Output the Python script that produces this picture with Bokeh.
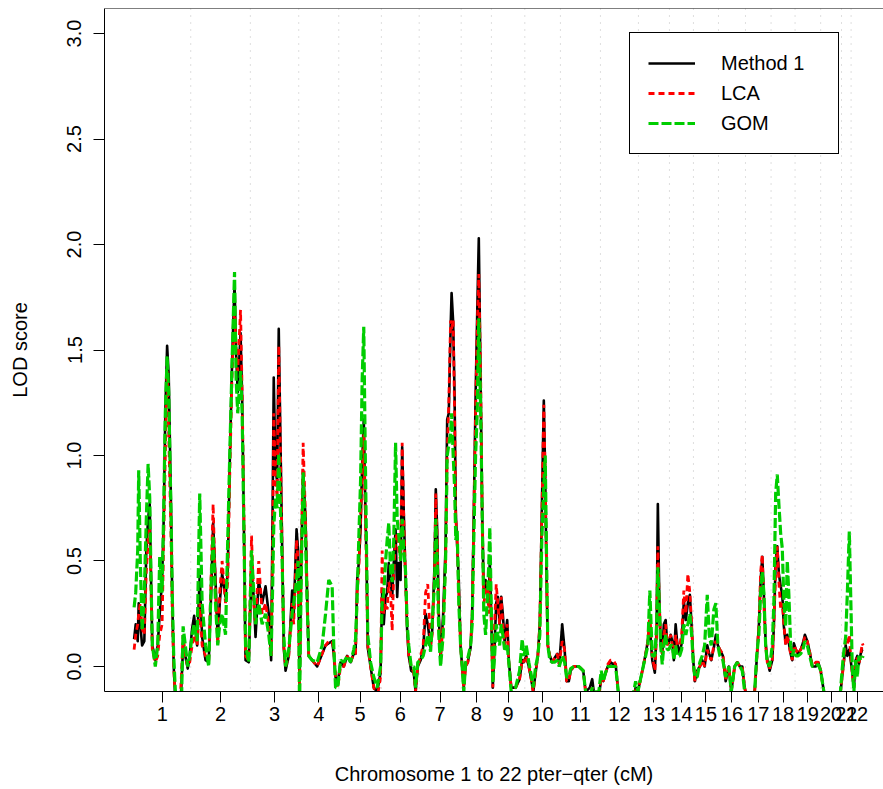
from bokeh.plotting import figure
from bokeh.models import (Range1d, FixedTicker, Span, Legend, LegendItem,
                          PrintfTickFormatter, ColumnDataSource)
from bokeh.embed import file_html
from bokeh.resources import INLINE

# ---------------- data ----------------
chrom_labels = [str(i) for i in range(1, 23)]
chrom_len_cM = [283, 298, 242, 200, 213, 189, 210, 151, 167, 178, 200,
                190, 155, 120, 125, 135, 128, 120, 128, 104, 48, 60]

# genome-wide position (cM, chromosome 1 pter = 0)
pos_cM = [
    0, 8, 18, 23, 31, 40, 51, 61, 70, 78, 85, 91, 106, 118, 128, 140, 148, 156, 165, 173, 185, 191, 198, 208, 223, 236, 245, 256, 268, 278,
    290, 300, 315, 328, 340, 357, 373, 387, 395, 407, 418, 428, 440, 457, 468, 478, 490, 502, 510, 518, 532, 540, 548, 557, 573,
    587, 598, 607, 623, 640, 657, 673, 685, 693, 698, 707, 715, 723, 732, 740, 748, 757, 773, 790, 798, 812, 820,
    827, 835, 845, 857, 865, 873, 890, 915, 940, 957, 973, 990, 998, 1007, 1018,
    1032, 1048, 1065, 1082, 1098, 1107, 1115, 1123, 1132, 1140, 1148, 1155, 1162, 1168, 1182, 1198, 1215, 1232,
    1240, 1248, 1257, 1265, 1273, 1282, 1290, 1298, 1307, 1315, 1323, 1332, 1340, 1348, 1357, 1365, 1373, 1385, 1398, 1407, 1418,
    1432, 1445, 1457, 1468, 1482, 1490, 1502, 1508, 1515, 1523, 1532, 1545, 1557, 1565, 1573, 1582, 1587, 1595, 1602, 1608, 1615, 1623, 1632,
    1640, 1648, 1657, 1668, 1682, 1690, 1698, 1707, 1715, 1723, 1732, 1740, 1748, 1757, 1765, 1773, 1778, 1787,
    1793, 1802, 1810, 1818, 1827, 1835, 1843, 1852, 1865, 1873, 1885, 1907, 1927, 1940, 1948,
    1960, 1973, 1985, 1995, 2007, 2018, 2028, 2038, 2048, 2055, 2062, 2068, 2078, 2090, 2102, 2115, 2125,
    2140, 2152, 2162, 2173, 2182, 2198, 2223, 2245, 2257, 2278, 2290, 2298, 2323,
    2335, 2345, 2357, 2368, 2382, 2395, 2407, 2418, 2440, 2473, 2507, 2518,
    2545, 2557, 2568, 2578, 2590, 2603, 2612, 2618, 2625, 2632, 2640, 2648, 2657, 2665, 2673,
    2682, 2690, 2698, 2707, 2715, 2727, 2737, 2748, 2758, 2768, 2778, 2787, 2795,
    2803, 2815, 2828, 2840, 2852, 2865, 2875, 2885, 2898, 2908, 2918,
    2928, 2943, 2957, 2973, 2985, 3002, 3015, 3028, 3040, 3052,
    3073, 3102, 3112, 3123, 3132, 3140, 3148, 3157, 3165, 3177,
    3190, 3198, 3207, 3215, 3223, 3232, 3240, 3248, 3257, 3265, 3273, 3282, 3290, 3298,
    3308, 3318, 3332, 3343, 3353, 3365, 3377, 3390, 3407, 3420, 3432,
    3448, 3490, 3528,
    3545, 3557, 3565, 3575, 3582,
    3590, 3598, 3607, 3615, 3623, 3632, 3640, 3644,
]

lod_method1 = [
    0.13, 0.2, 0.12, 0.3, 0.2, 0.1, 0.12, 0.55, 0.7, 0.77, 0.4, 0.1, 0.03, 0.1, 0.25, 0.41, 0.7, 1.2, 1.52, 1.38, 0.73, 0.3, 0.0, -0.2, -0.3, -0.1, 0.1, 0.05, -0.01, 0.05,
    0.18, 0.24, 0.1, 0.43, 0.14, 0.03, 0.02, 0.4, 0.68, 0.41, 0.13, 0.3, 0.44, 0.33, 0.45, 0.96, 1.45, 1.82, 1.48, 1.3, 1.58, 1.28, 0.73, 0.03, 0.02,
    0.45, 0.33, 0.14, 0.41, 0.3, 0.38, 0.25, 0.03, 0.8, 1.37, 0.93, 0.88, 1.6, 1.04, 0.57, 0.09, -0.02, 0.05, 0.36, 0.25, 0.65, 0.55,
    -0.1, 0.47, 0.93, 0.7, 0.33, 0.05, 0.03, 0.0, 0.06, 0.1, 0.11, 0.12, 0.06, -0.05, -0.08,
    0.02, 0.0, 0.05, 0.02, 0.06, 0.06, 0.41, 0.49, 0.65, 0.96, 1.17, 0.8, 0.49, 0.09, 0.0, -0.1, -0.12, -0.03,
    0.36, 0.2, 0.33, 0.35, 0.49, 0.41, 0.33, 0.49, 0.65, 0.33, 0.49, 0.41, 1.04, 0.73, 0.41, 0.17, 0.05, -0.02, -0.03, -0.12, 0.0,
    0.03, 0.09, 0.25, 0.2, 0.09, 0.17, 0.49, 0.84, 0.65, 0.25, 0.03, 0.25, 0.57, 1.17, 1.2, 1.6, 1.77, 1.63, 1.28, 0.73, 0.57, 0.41, 0.09,
    0.0, -0.1, 0.0, 0.02, 0.09, 0.25, 0.73, 1.28, 1.67, 2.03, 1.36, 0.73, 0.33, 0.41, 0.38, 0.3, 0.5, 0.17,
    -0.1, 0.1, 0.3, 0.33, 0.2, 0.33, 0.25, 0.12, 0.22, 0.03, -0.1, -0.1, -0.06, 0.03, 0.02,
    0.05, 0.0, -0.06, -0.12, -0.03, 0.05, 0.2, 0.73, 1.26, 0.9, 0.4, 0.1, 0.05, 0.02, 0.04, 0.06, 0.01,
    0.2, 0.08, -0.07, -0.07, -0.02, 0.0, 0.0, -0.02, -0.12, -0.1, -0.06, -0.12, -0.15,
    -0.05, -0.07, -0.03, 0.0, 0.02, 0.01, 0.01, -0.1, -0.3, -0.3, -0.1, -0.12,
    0.0, 0.06, 0.12, 0.19, 0.03, -0.03, 0.19, 0.77, 0.34, 0.11, 0.06, 0.2, 0.22, 0.11, 0.11,
    0.15, 0.12, 0.03, 0.2, 0.11, 0.06, 0.11, 0.31, 0.22, 0.3, 0.34, 0.19, 0.03,
    -0.07, -0.02, 0.0, 0.03, 0.0, 0.1, 0.06, 0.03, 0.09, 0.15, 0.1,
    0.08, 0.05, -0.07, 0.0, -0.12, 0.0, 0.02, 0.0, 0.0, -0.1,
    -0.2, -0.12, 0.03, 0.19, 0.41, 0.52, 0.34, 0.11, 0.03, -0.02,
    0.03, 0.19, 0.5, 0.57, 0.44, 0.38, 0.34, 0.19, 0.11, 0.15, 0.11, 0.06, 0.03, 0.11,
    0.08, 0.06, 0.08, 0.11, 0.15, 0.12, 0.07, 0.0, 0.0, 0.02, -0.02,
    -0.12, -0.3, -0.15,
    0.0, 0.1, 0.05, 0.08, 0.03,
    -0.03, -0.1, 0.03, 0.05, 0.01, 0.06, 0.08, 0.08,
]

lod_lca = [
    0.08, 0.15, 0.2, 0.25, 0.3, 0.18, 0.15, 0.45, 0.6, 0.65, 0.35, 0.08, 0.02, 0.05, 0.15, 0.2, 0.6, 1.0, 1.4, 1.1, 0.6, 0.25, 0.0, -0.2, -0.3, -0.05, 0.15, 0.05, 0.0, 0.02,
    0.1, 0.15, 0.1, 0.3, 0.1, 0.05, 0.03, 0.5, 0.77, 0.35, 0.1, 0.35, 0.5, 0.3, 0.4, 0.9, 1.4, 1.7, 1.5, 1.4, 1.69, 1.3, 0.8, 0.05, 0.03,
    0.62, 0.3, 0.2, 0.5, 0.25, 0.3, 0.2, 0.05, 0.6, 1.2, 0.88, 0.8, 1.52, 1.0, 0.55, 0.1, 0.0, 0.05, 0.3, 0.2, 0.6, 0.5,
    -0.1, 0.5, 1.06, 0.7, 0.35, 0.05, 0.03, 0.0, 0.06, 0.1, 0.12, 0.12, 0.08, -0.05, -0.1,
    0.0, 0.0, 0.05, 0.02, 0.06, 0.06, 0.35, 0.45, 0.7, 0.9, 1.1, 0.75, 0.45, 0.1, 0.0, -0.1, -0.15, -0.05,
    0.55, 0.25, 0.3, 0.27, 0.4, 0.35, 0.17, 0.45, 0.6, 0.63, 0.55, 0.5, 1.06, 0.7, 0.4, 0.2, 0.05, 0.0, -0.03, -0.12, 0.0,
    0.05, 0.1, 0.35, 0.39, 0.1, 0.15, 0.45, 0.82, 0.6, 0.2, 0.05, 0.2, 0.5, 1.0, 1.25, 1.64, 1.6, 1.64, 1.2, 0.7, 0.6, 0.35, 0.1,
    0.0, -0.1, 0.0, 0.02, 0.1, 0.25, 0.7, 1.2, 1.6, 1.86, 1.4, 0.7, 0.3, 0.35, 0.4, 0.25, 0.45, 0.15,
    -0.1, 0.2, 0.39, 0.3, 0.2, 0.33, 0.2, 0.1, 0.2, 0.02, -0.1, -0.1, -0.06, 0.03, 0.02,
    0.05, 0.0, -0.06, -0.12, -0.03, 0.05, 0.2, 0.7, 1.24, 0.9, 0.45, 0.1, 0.05, 0.02, 0.04, 0.06, 0.01,
    0.12, 0.08, -0.07, -0.07, -0.02, 0.0, 0.0, -0.02, -0.12, -0.15, -0.1, -0.12, -0.15,
    -0.05, -0.07, -0.03, 0.01, 0.03, 0.03, 0.01, -0.1, -0.3, -0.3, -0.1, -0.12,
    0.0, 0.06, 0.12, 0.25, 0.05, -0.02, 0.15, 0.57, 0.3, 0.12, 0.06, 0.15, 0.2, 0.1, 0.12,
    0.15, 0.1, 0.05, 0.15, 0.1, 0.1, 0.15, 0.36, 0.25, 0.44, 0.35, 0.2, 0.03,
    -0.07, -0.02, 0.0, 0.03, 0.0, 0.08, 0.05, 0.03, 0.1, 0.12, 0.1,
    0.08, 0.06, -0.06, 0.0, -0.12, 0.0, 0.02, 0.0, 0.0, -0.1,
    -0.2, -0.12, 0.03, 0.2, 0.45, 0.53, 0.3, 0.1, 0.02, -0.01,
    0.03, 0.2, 0.45, 0.57, 0.4, 0.27, 0.3, 0.2, 0.1, 0.15, 0.1, 0.06, 0.03, 0.1,
    0.08, 0.06, 0.08, 0.1, 0.14, 0.12, 0.07, 0.0, 0.02, 0.02, -0.02,
    -0.12, -0.3, -0.15,
    0.0, 0.12, 0.1, 0.15, 0.05,
    -0.03, -0.1, 0.03, 0.04, 0.01, 0.06, 0.11, 0.1,
]

lod_gom = [
    0.28, 0.35, 0.55, 0.93, 0.5, 0.17, 0.35, 0.7, 0.96, 0.8, 0.4, 0.1, 0.0, 0.1, 0.52, 0.35, 0.75, 1.2, 1.47, 1.3, 0.7, 0.33, 0.05, -0.15, -0.3, -0.2, 0.19, 0.1, 0.0, 0.05,
    0.15, 0.2, 0.12, 0.82, 0.3, 0.1, 0.0, 0.45, 0.62, 0.3, 0.1, 0.2, 0.25, 0.15, 0.6, 1.0, 1.45, 1.87, 1.36, 1.2, 1.4, 1.2, 0.7, 0.1, 0.02,
    0.55, 0.35, 0.2, 0.3, 0.2, 0.25, 0.15, 0.05, 0.4, 0.66, 0.8, 0.75, 1.01, 0.73, 0.5, 0.15, 0.0, 0.08, 0.25, 0.3, 0.41, 0.5,
    -0.2, 0.4, 0.92, 0.6, 0.3, 0.05, 0.03, 0.02, 0.1, 0.25, 0.41, 0.38, 0.1, -0.1, -0.1,
    0.03, 0.02, 0.05, 0.02, 0.08, 0.13, 0.33, 0.6, 0.88, 1.36, 1.61, 1.05, 0.55, 0.15, 0.02, -0.05, -0.1, 0.0,
    0.3, 0.35, 0.5, 0.6, 0.68, 0.45, 0.4, 0.6, 1.06, 0.7, 0.62, 0.5, 0.7, 0.55, 0.45, 0.2, 0.1, 0.0, 0.0, -0.1, 0.02,
    0.03, 0.05, 0.1, 0.15, 0.07, 0.2, 0.4, 0.7, 0.5, 0.15, 0.0, 0.15, 0.5, 1.0, 1.05, 1.1, 1.2, 1.0, 0.85, 0.6, 0.65, 0.3, 0.1,
    0.0, -0.12, 0.02, 0.04, 0.1, 0.2, 0.6, 1.0, 1.2, 1.65, 1.23, 0.73, 0.25, 0.15, 0.3, 0.49, 0.66, 0.2,
    -0.08, 0.05, 0.2, 0.15, 0.1, 0.2, 0.15, 0.08, 0.1, 0.02, -0.12, -0.1, -0.02, 0.13, 0.05,
    0.1, 0.02, -0.04, -0.1, 0.0, 0.05, 0.15, 0.6, 0.85, 1.0, 0.5, 0.1, 0.03, 0.02, 0.02, 0.03, 0.0,
    0.05, 0.02, -0.05, -0.05, -0.01, 0.0, 0.0, -0.02, -0.12, -0.15, -0.1, -0.12, -0.12,
    -0.02, -0.07, -0.03, 0.0, 0.0, 0.0, 0.0, -0.1, -0.3, -0.25, -0.07, -0.12,
    0.0, 0.05, 0.1, 0.36, 0.05, 0.05, 0.2, 0.47, 0.3, 0.1, 0.01, 0.1, 0.15, 0.08, 0.08,
    0.1, 0.1, 0.03, 0.1, 0.05, 0.05, 0.08, 0.2, 0.15, 0.2, 0.25, 0.15, 0.02,
    -0.05, -0.05, 0.02, 0.05, 0.1, 0.34, 0.15, 0.1, 0.27, 0.3, 0.1,
    0.05, 0.03, -0.05, 0.0, -0.12, 0.0, 0.02, 0.0, -0.02, -0.12,
    -0.2, -0.12, 0.05, 0.15, 0.35, 0.45, 0.35, 0.1, 0.02, 0.0,
    0.1, 0.3, 0.82, 0.91, 0.77, 0.63, 0.56, 0.31, 0.19, 0.5, 0.34, 0.1, 0.05, 0.08,
    0.05, 0.05, 0.06, 0.08, 0.12, 0.1, 0.05, 0.0, 0.0, 0.01, -0.02,
    -0.12, -0.3, -0.15,
    0.05, 0.14, 0.34, 0.64, 0.34,
    -0.01, -0.12, 0.03, -0.05, 0.05, 0.03, 0.04, 0.05,
]

y_ticks = [0.0, 0.5, 1.0, 1.5, 2.0, 2.5, 3.0]

assert len(pos_cM) == len(lod_method1) == len(lod_lca) == len(lod_gom), (
    len(pos_cM), len(lod_method1), len(lod_lca), len(lod_gom))

# chromosome boundaries and centres (derived from lengths)
bounds = [0]
for L in chrom_len_cM:
    bounds.append(bounds[-1] + L)
mids = [(bounds[i] + bounds[i + 1]) / 2 for i in range(len(chrom_len_cM))]

FONT = "Liberation Sans"
GREEN = "#00CD00"

src = ColumnDataSource(dict(pos=pos_cM, m1=lod_method1, lca=lod_lca, gom=lod_gom))

p = figure(width=883, height=789, output_backend="svg", toolbar_location=None,
           x_range=Range1d(-148, 3746), y_range=Range1d(-0.1186, 3.1186),
           min_border_left=104, min_border_right=0, min_border_top=8,
           min_border_bottom=98)
p.xgrid.visible = False
p.ygrid.visible = False
p.outline_line_color = None
p.background_fill_color = "white"
p.border_fill_color = "white"

# chromosome boundary dotted lines
for b in bounds[1:-1]:
    p.add_layout(Span(location=b, dimension="height", line_color="#BEBEBE",
                      line_width=1, line_dash="1 6", level="underlay"))
# top frame line
p.add_layout(Span(location=3.1186, dimension="width", line_color="black",
                  line_width=1))

# data lines
r1 = p.line("pos", "m1", source=src, line_color="black", line_width=2.6, line_join="round")
r2 = p.line("pos", "lca", source=src, line_color="red", line_width=2.8, line_dash="6 4")
r3 = p.line("pos", "gom", source=src, line_color=GREEN, line_width=3.2, line_dash="10 3")

legend = Legend(items=[LegendItem(label="Method 1", renderers=[r1]),
                       LegendItem(label="LCA", renderers=[r2]),
                       LegendItem(label="GOM", renderers=[r3])],
                location=(525, 537), orientation="vertical",
                padding=18, spacing=6, margin=0,
                glyph_width=47, glyph_height=24, label_standoff=26,
                label_width=99, label_height=24,
                label_text_font=FONT, label_text_font_size="20px",
                label_text_color="black",
                border_line_color="black", border_line_width=1, border_line_alpha=1,
                background_fill_color="white", background_fill_alpha=1)
p.add_layout(legend)

# x axis
xa = p.xaxis[0]
xa.ticker = FixedTicker(ticks=mids)
xa.major_label_overrides = {m: lab for m, lab in zip(mids, chrom_labels)}
xa.minor_tick_line_color = None
xa.major_tick_out = 11
xa.major_tick_in = 0
xa.major_label_standoff = 4
xa.major_label_text_font = FONT
xa.major_label_text_font_size = "20px"
xa.major_label_text_color = "black"
xa.axis_label = "Chromosome 1 to 22 pter\u2212qter (cM)"
xa.axis_label_text_font = FONT
xa.axis_label_text_font_size = "20px"
xa.axis_label_text_font_style = "normal"
xa.axis_label_text_color = "black"
xa.axis_label_standoff = 39
xa.axis_line_color = "black"
xa.major_tick_line_color = "black"

# y axis
ya = p.yaxis[0]
ya.ticker = FixedTicker(ticks=y_ticks)
ya.formatter = PrintfTickFormatter(format="%.1f")
ya.minor_tick_line_color = None
ya.major_tick_out = 11
ya.major_tick_in = 0
ya.major_label_orientation = "vertical"
ya.major_label_standoff = 12
ya.major_label_text_font = FONT
ya.major_label_text_font_size = "20px"
ya.major_label_text_color = "black"
ya.axis_label = "LOD score"
ya.axis_label_text_font = FONT
ya.axis_label_text_font_size = "20px"
ya.axis_label_text_font_style = "normal"
ya.axis_label_text_color = "black"
ya.axis_label_standoff = 34
ya.axis_line_color = "black"
ya.major_tick_line_color = "black"

open("out.html", "w").write(file_html(p, INLINE))
